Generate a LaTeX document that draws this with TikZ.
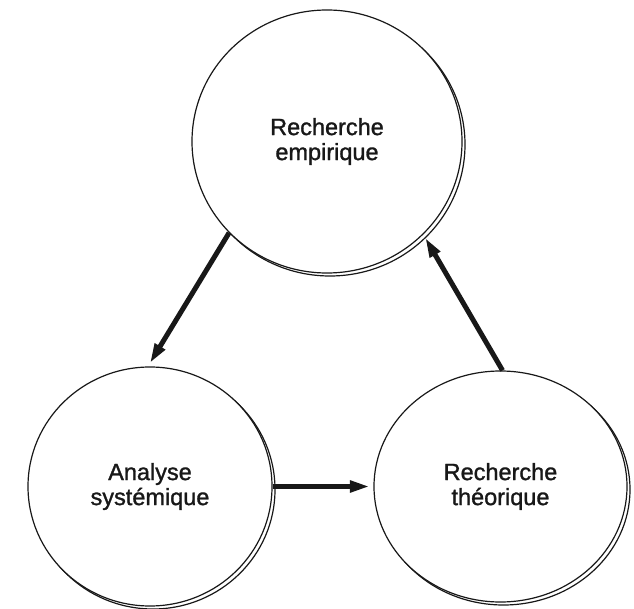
\documentclass[tikz,border=0pt]{standalone}
\usepackage{fontspec}
\setmainfont{Liberation Sans}
\usetikzlibrary{shapes.geometric,arrows.meta,shadows}
\definecolor{ink}{HTML}{181818}
\begin{document}
\begin{tikzpicture}[x=1pt,y=-1pt,
  bubble/.style={ellipse, draw=ink, line width=1.2pt, fill=white, inner sep=0pt,
    align=center, text=ink,
    font=\fontsize{23.5}{25}\selectfont\addfontfeature{FakeBold=1.2},
    copy shadow={shadow xshift=3pt, shadow yshift=-3pt}},
  flow/.style={draw=ink, line width=5pt,
    -{Triangle[length=20pt,width=11pt,sep=3.5pt]}}]
\useasboundingbox (0,0) rectangle (634,609);

\node[bubble, minimum width=270pt, minimum height=263pt] (emp) at (327,141.5)
  {Recherche\\empirique};
\node[bubble, minimum width=244pt, minimum height=239pt] (sys) at (150,486.5)
  {Analyse\\systémique};
\node[bubble, minimum width=253pt, minimum height=231pt] (theo) at (500.5,486.5)
  {Recherche\\théorique};

\draw[flow] (emp.223) -- (sys.91);
\draw[flow] (sys.0) -- (theo.180);
\draw[flow] (theo.89) -- (emp.316);
\end{tikzpicture}
\end{document}
